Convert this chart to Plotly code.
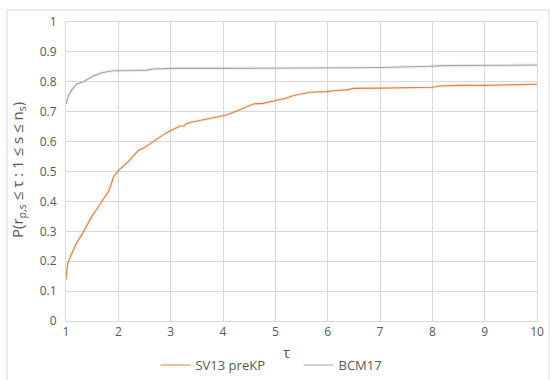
import plotly.graph_objects as go

tau_sv13 = [1.0, 1.03, 1.07, 1.11, 1.2, 1.3, 1.4, 1.49, 1.6, 1.71, 1.81, 1.86, 1.905, 2.0, 2.1, 2.19,
            2.3, 2.38, 2.5, 2.61, 2.75, 2.92, 3.05, 3.18, 3.25, 3.3, 3.39, 3.6, 3.8, 3.94, 4.05, 4.19,
            4.35, 4.58, 4.77, 4.9, 5.09, 5.2, 5.35, 5.5, 5.67, 5.98, 6.11, 6.37, 6.49, 7.0, 7.5, 8.0,
            8.15, 8.5, 9.0, 9.5, 10.0]
p_sv13 = [0.139, 0.19, 0.21, 0.226, 0.26, 0.288, 0.32, 0.349, 0.378, 0.405, 0.432, 0.455, 0.481, 0.503,
          0.518, 0.533, 0.555, 0.57, 0.58, 0.592, 0.61, 0.63, 0.64, 0.652, 0.652, 0.66, 0.665, 0.672,
          0.678, 0.683, 0.688, 0.697, 0.71, 0.726, 0.728, 0.733, 0.739, 0.745, 0.754, 0.76, 0.765,
          0.767, 0.77, 0.773, 0.778, 0.779, 0.78, 0.782, 0.786, 0.788, 0.788, 0.789, 0.792]

tau_bcm17 = [1.0, 1.05, 1.11, 1.2, 1.33, 1.52, 1.68, 1.8, 1.905, 2.2, 2.54, 2.67, 3.05, 4.0, 5.0, 6.0,
             6.5, 7.0, 7.5, 7.96, 8.2, 9.0, 9.5, 10.0]
p_bcm17 = [0.726, 0.755, 0.773, 0.792, 0.80, 0.819, 0.83, 0.834, 0.837, 0.838, 0.839, 0.843, 0.845,
           0.845, 0.845, 0.846, 0.847, 0.848, 0.849, 0.852, 0.854, 0.854, 0.855, 0.856]

series_names = ["SV13 preKP", "BCM17"]
colors = ["#ED7D31", "#A5A5A5"]

FONT = "Open Sans, Liberation Sans, sans-serif"
fig = go.Figure()

for xs, ys in [(tau_sv13, p_sv13), (tau_bcm17, p_bcm17)]:
    fig.add_trace(go.Scatter(x=xs, y=ys, mode="lines", showlegend=False, hoverinfo="skip",
                             line=dict(color="rgba(0,0,0,0.06)", width=3.5)))

fig.add_trace(go.Scatter(x=tau_sv13, y=p_sv13, mode="lines", name=series_names[0],
                         line=dict(color=colors[0], width=1.1)))
fig.add_trace(go.Scatter(x=tau_bcm17, y=p_bcm17, mode="lines", name=series_names[1],
                         line=dict(color=colors[1], width=1.1)))

fig.update_layout(
    width=550, height=380,
    margin=dict(l=66, r=13, t=22, b=59, autoexpand=False),
    paper_bgcolor="white", plot_bgcolor="white",
    font=dict(family=FONT, size=12, color="#595959"),
    showlegend=True,
    legend=dict(orientation="h", x=0.19, xanchor="left", y=-0.097, yanchor="top",
                font=dict(size=13, color="#595959"), itemwidth=30, traceorder="normal",
                entrywidth=98, entrywidthmode="pixels", bgcolor="rgba(0,0,0,0)"),
    xaxis=dict(range=[1, 10], dtick=1, tick0=1, showgrid=True, gridcolor="#D9D9D9", gridwidth=1,
               zeroline=False, showline=True, linecolor="#D9D9D9", mirror=True,
               ticks="", tickfont=dict(size=12, color="#595959")),
    yaxis=dict(range=[0, 1], dtick=0.1, showgrid=True, gridcolor="#D9D9D9", gridwidth=1,
               zeroline=False, showline=True, linecolor="#D9D9D9", mirror=True,
               ticks="", ticklabelstandoff=6, tickfont=dict(size=12, color="#595959")),
    shapes=[dict(type="rect", xref="paper", yref="paper", x0=-0.1253, x1=1.0255, y0=-0.25, y1=1.040,
                 line=dict(color="#D9D9D9", width=1), layer="below")],
    annotations=[
        dict(text="τ", xref="paper", yref="paper", x=0.469, y=-0.105, xanchor="center", yanchor="middle",
             showarrow=False, font=dict(size=15, color="#595959")),
        dict(text="P(r<sub>p,s</sub> ≤ τ : 1 ≤ s ≤ n<sub>s</sub>)", xref="paper", yref="paper",
             x=-0.102, y=0.505, xanchor="center", yanchor="middle", textangle=-90, showarrow=False,
             font=dict(size=15, color="#595959")),
    ],
)

fig.write_html("out.html")
